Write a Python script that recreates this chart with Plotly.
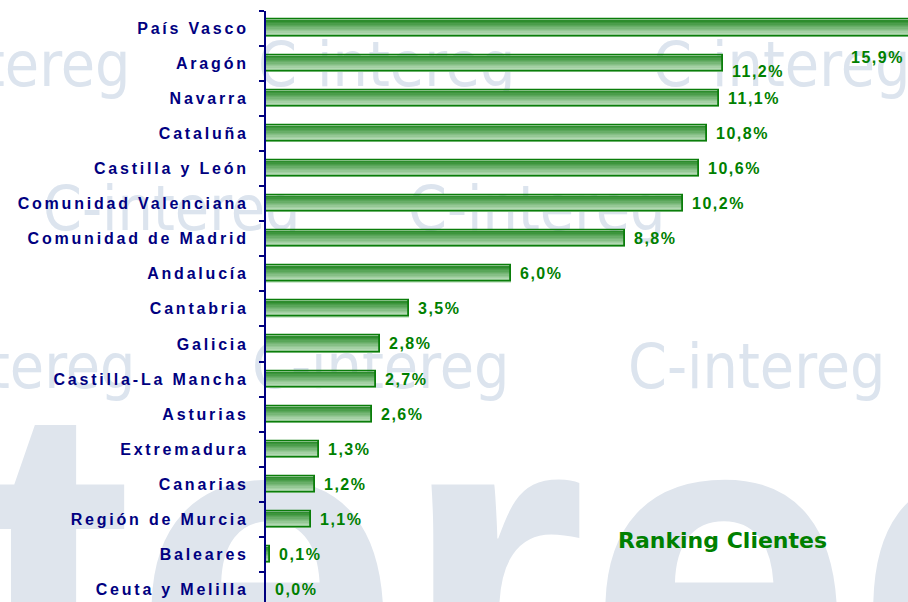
import plotly.graph_objects as go

# ---------------- data ----------------
categories = ["País Vasco", "Aragón", "Navarra", "Cataluña", "Castilla y León",
              "Comunidad Valenciana", "Comunidad de Madrid", "Andalucía", "Cantabria",
              "Galicia", "Castilla-La Mancha", "Asturias", "Extremadura", "Canarias",
              "Región de Murcia", "Baleares", "Ceuta y Melilla"]
values = [15.9, 11.2, 11.1, 10.8, 10.6, 10.2, 8.8, 6.0, 3.5, 2.8, 2.7, 2.6,
          1.3, 1.2, 1.1, 0.1, 0.0]
value_labels = [f"{v:.1f}".replace(".", ",") + "%" for v in values]
chart_label = "Ranking Clientes"
watermark_word = "C-intereg"
watermark_big = "tereg"

# ---------------- styling ----------------
W, H = 908, 602
PLOT_LEFT = 266
PLOT_TOP = 10.5
X_MAX = 15.72
NAVY = "#000080"
GREEN = "#008000"
BAR_EDGE = "#0a7d0a"
BAR_W = 0.46
N_LAYERS = 12
top_rgb = (45, 140, 45)
bot_rgb = (208, 234, 208)

fig = go.Figure()

# gradient bars (overlaid layers, bottom-aligned)
for k in range(N_LAYERS):
    t = k / (N_LAYERS - 1)
    c = tuple(round(top_rgb[i] + (bot_rgb[i] - top_rgb[i]) * t) for i in range(3))
    wk = BAR_W * (N_LAYERS - k) / N_LAYERS
    fig.add_trace(go.Bar(
        x=values, y=categories, orientation="h",
        width=wk, offset=BAR_W / 2 - wk,
        marker=dict(color=f"rgb{c}", line=dict(width=0)),
        hoverinfo="skip", showlegend=False,
    ))
# outline
fig.add_trace(go.Bar(
    x=values, y=categories, orientation="h",
    width=BAR_W, offset=-BAR_W / 2,
    marker=dict(color="rgba(0,0,0,0)", line=dict(width=1.8, color=BAR_EDGE)),
    hovertemplate="%{y}: %{x}%<extra></extra>", showlegend=False,
))

# value labels
annotations = []
for i, (cat, v, lab) in enumerate(zip(categories, values, value_labels)):
    a = dict(x=v, y=cat, xref="x", yref="y", text=lab, showarrow=False,
             xanchor="left", yanchor="middle", align="left", xshift=7,
             font=dict(family="Liberation Sans, Arial", size=16, color=GREEN, weight="bold"))
    if v > X_MAX:  # label of the clipped bar sits below its end, at the right edge
        a.update(x=X_MAX, xanchor="right", xshift=-10, yshift=-29)
    elif i == 1:
        a.update(yshift=-8)
    annotations.append(a)

annotations.append(dict(
    x=616 / W, y=1 - 540 / H, xref="paper", yref="paper", text=chart_label,
    showarrow=False, xanchor="left", yanchor="middle",
    font=dict(family="DejaVu Sans", size=22, color=GREEN, weight="bold")))

# background watermark (drawn below everything)
shapes = []
wm_color = "#dce4ee"
wm_font = "Liberation Sans Narrow, DejaVu Sans Condensed, Roboto Condensed, sans-serif"
tiles = [(-130, 60), (255, 60), (650, 60),
         (40, 204), (405, 204),
         (-125, 362), (249, 362), (625, 362)]
for (xl, yc) in tiles:
    shapes.append(dict(
        type="rect", xref="paper", yref="paper", layer="below",
        x0=xl / W, x1=(xl + 400) / W, y0=1 - (yc + 60) / H, y1=1 - (yc - 60) / H,
        line=dict(width=0), fillcolor="rgba(0,0,0,0)",
        label=dict(text=watermark_word, textposition="middle left", padding=0,
                   font=dict(family=wm_font, size=62, color=wm_color))))
shapes.append(dict(
    type="rect", xref="paper", yref="paper", layer="below",
    x0=-30 / W, x1=1.5, y0=1 - (528 + 300) / H, y1=1 - (528 - 300) / H,
    line=dict(width=0), fillcolor="rgba(0,0,0,0)",
    label=dict(text=watermark_big, textposition="middle left", padding=0,
               font=dict(family="Liberation Sans", size=480, color="#dfe5ed",
                         weight="bold"))))

fig.update_layout(
    width=W, height=H,
    margin=dict(l=0, r=0, t=0, b=0),
    paper_bgcolor="white", plot_bgcolor="rgba(0,0,0,0)",
    barmode="overlay", bargap=0,
    annotations=annotations, shapes=shapes,
    xaxis=dict(domain=[PLOT_LEFT / W, 1], range=[0, X_MAX], visible=False,
               fixedrange=True),
    yaxis=dict(domain=[0, 1 - PLOT_TOP / H], type="category",
               categoryorder="array", categoryarray=categories,
               range=[16.35, -0.5], showline=True, linecolor=NAVY, linewidth=2,
               ticks="outside", tickson="boundaries", ticklen=5, tickwidth=2,
               tickcolor=NAVY, showgrid=False, zeroline=False, ticklabelstandoff=12,
               tickfont=dict(family="Liberation Sans, Arial", size=16, color=NAVY,
                             weight="bold"),
               fixedrange=True),
    showlegend=False,
)

post = """
document.body.style.margin = '0';
document.body.style.padding = '0';
var gd = document.getElementById('{plot_id}');
function spacing(){
  gd.querySelectorAll('.ytick text').forEach(function(t){ t.style.letterSpacing='2.8px'; });
  gd.querySelectorAll('.annotation-text').forEach(function(t){
    if (t.textContent.indexOf('%') >= 0) t.style.letterSpacing='1.5px';
  });
}
spacing();
gd.on('plotly_afterplot', spacing);
"""

fig.write_html("out.html", post_script=post, config={"displayModeBar": False})
